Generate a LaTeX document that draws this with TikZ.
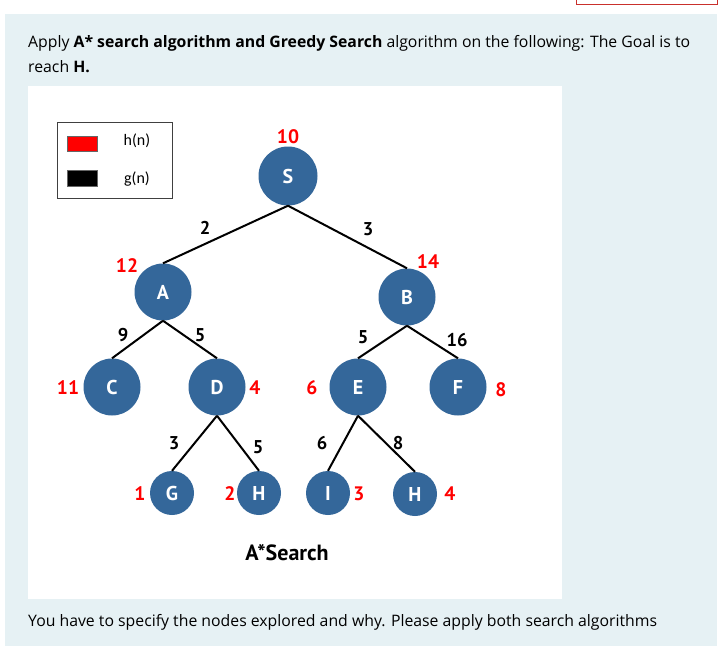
\documentclass[tikz,border=0pt]{standalone}
\usepackage{fontspec}
\setmainfont{Open Sans}
\newfontfamily\treefont{PT Sans}
\newfontfamily\keyfont{Carlito}
\definecolor{panelcol}{HTML}{E6F1F4}
\definecolor{nodecol}{HTML}{34679A}
\definecolor{hcol}{HTML}{FF0000}
\definecolor{markcol}{HTML}{C9302C}

\begin{document}
\begin{tikzpicture}[x=1pt,y=-1pt,
    state/.style={circle,fill=nodecol,text=white,inner sep=0pt,minimum size=57pt,
      font=\treefont\bfseries\fontsize{20}{20}\selectfont},
    leaf/.style={state,minimum size=44pt},
    hval/.style={text=hcol,inner sep=0pt,font=\treefont\bfseries\fontsize{19.5}{19.5}\selectfont},
    gval/.style={inner sep=0pt,font=\treefont\bfseries\fontsize{18.5}{18.5}\selectfont},
    link/.style={line width=2pt}]
  \useasboundingbox (0,0) rectangle (727,646);
  % ---------- page : panel, picture area, question text -----------
  \draw[markcol,line width=0.8pt] (576,-5) rectangle (717,4.5);
  \fill[panelcol] (5,14) rectangle (717,646);
  \fill[white] (28,86) rectangle (562,599);
  \node[anchor=base west,inner sep=0pt,align=left,font=\fontsize{15.8}{25}\selectfont]
      (task) at (28,72)
      {Apply \textbf{A* search algorithm and Greedy Search} algorithm on the following: The Goal is to\\
       reach \textbf{H.}};
  \node[anchor=base west,inner sep=0pt,font=\fontsize{15.8}{25}\selectfont]
      (ask) at (28,626)
      {You have to specify the nodes explored and why. Please apply both search algorithms};
  % ---------- legend ------------------------------------------------
  \draw[black!75,line width=0.8pt] (57,122) rectangle (172,198);
  \filldraw[fill=hcol,draw=black!60] (67,136) rectangle (97,151);
  \filldraw[fill=black,draw=black!60] (67,170) rectangle (97,186);
  \node[font=\keyfont\fontsize{16}{16}\selectfont] (hkey) at (137,141) {h(n)};
  \node[font=\keyfont\fontsize{16}{16}\selectfont] (gkey) at (137,179) {g(n)};
  % ---------- tree ----------------------------------------------------
  \node[state,minimum size=59pt] (S) at (288,176) {S};
  \node[state] (A) at (163,292) {A};
  \node[state] (B) at (407,297) {B};
  \node[state] (C) at (112,387) {C};
  \node[state] (D) at (217,387) {D};
  \node[state] (E) at (358,387) {E};
  \node[state] (F) at (458,387) {F};
  \node[leaf] (G) at (172,493) {G};
  \node[leaf] (H1) at (259,493) {H};
  \node[leaf] (I) at (328,493) {I};
  \node[leaf] (H2) at (415,494) {H};
  \draw[link] (S.south) -- (A.north);
  \draw[link] (S.south) -- (B.north);
  \draw[link] (A.south) -- (C.north);
  \draw[link] (A.south) -- (D.north);
  \draw[link] (B.south) -- (E.north);
  \draw[link] (B.south) -- (F.north);
  \draw[link] (D.south) -- (G.north);
  \draw[link] (D.south) -- (H1.north);
  \draw[link] (E.south) -- (I.north);
  \draw[link] (E.south) -- (H2.north);
  % g(n) : step costs on the edges
  \node[gval] (gSA) at (205,228) {2};
  \node[gval] (gSB) at (368,229) {3};
  \node[gval] (gAC) at (123,335) {9};
  \node[gval] (gAD) at (200,335) {5};
  \node[gval] (gBE) at (363,337) {5};
  \node[gval] (gBF) at (457,340) {16};
  \node[gval] (gDG) at (174,443) {3};
  \node[gval] (gDH) at (258,447) {5};
  \node[gval] (gEI) at (322,443) {6};
  \node[gval] (gEH) at (398,443) {8};
  % h(n) : heuristic values beside the nodes
  \node[hval] (hS) at (288,137) {10};
  \node[hval] (hA) at (127,266) {12};
  \node[hval] (hB) at (428,262) {14};
  \node[hval] (hC) at (68,388) {11};
  \node[hval] (hD) at (255,388) {4};
  \node[hval] (hE) at (312,388) {6};
  \node[hval] (hF) at (501,390) {8};
  \node[hval] (hG) at (140,494) {1};
  \node[hval] (hH1) at (230,494) {2};
  \node[hval] (hI) at (359,494) {3};
  \node[hval] (hH2) at (450,494) {4};
  \node[font=\treefont\bfseries\fontsize{22}{22}\selectfont] (cap) at (287,553) {A*Search};
\end{tikzpicture}
\end{document}
